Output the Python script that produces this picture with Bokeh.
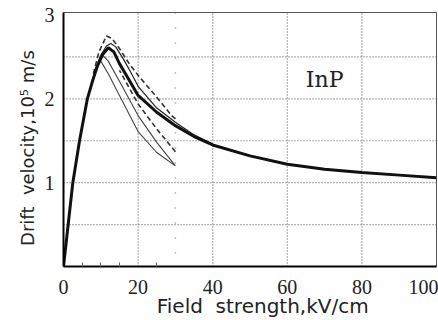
from bokeh.plotting import figure
from bokeh.models import Range1d, FixedTicker, Span
from bokeh.core.properties import value
from bokeh.embed import file_html
from bokeh.resources import INLINE

# steady-state curve (thick)
steady_x = [0, 1, 2.5, 4.3, 6.4, 7.7, 9, 10.5, 12, 13.5, 15, 17, 20, 25, 30, 35, 40, 50, 60, 70, 80, 90, 100]
steady_y = [0, 0.4, 1.0, 1.5, 2.0, 2.2, 2.38, 2.53, 2.61, 2.56, 2.42, 2.27, 2.04, 1.84, 1.68, 1.55, 1.45, 1.32, 1.22, 1.16, 1.12, 1.09, 1.06]

# thin curve near the steady-state one
near_x = [8.5, 10, 11.5, 12.7, 14, 16, 18, 20, 25, 30, 35, 40]
near_y = [2.35, 2.52, 2.63, 2.66, 2.62, 2.48, 2.32, 2.15, 1.89, 1.72, 1.57, 1.46]

# dashed loop, upper and lower branches
dash_up_x = [8, 9.5, 11.5, 13, 15, 17.6, 20, 25, 29, 30]
dash_up_y = [2.3, 2.56, 2.75, 2.72, 2.6, 2.42, 2.28, 2.02, 1.8, 1.76]
dash_lo_x = [30, 25, 20, 17, 15]
dash_lo_y = [1.37, 1.64, 1.94, 2.18, 2.34]

# thin loop
loop_x = [9, 10.5, 12, 15, 20, 25, 30, 25, 20, 15, 12, 10]
loop_y = [2.4, 2.52, 2.45, 2.21, 1.80, 1.48, 1.2, 1.36, 1.61, 2.04, 2.3, 2.45]

x_ticks = [0, 20, 40, 60, 80, 100]
x_minor = [5, 10, 15, 25]
y_ticks = [1, 2, 3]
x_grid = [20, 40, 60, 80]
y_grid = [0.5, 1, 1.5, 2, 2.5]
x_min, x_max = 0, 100
y_min, y_max = 0, 3.03
amp_field = 30
label_text = "InP"
label_pos = (70, 2.23)

NB = "\u00a0"
x_label = NB * 4 + "Field" + NB * 2 + "strength,kV/cm"
y_label = "Drift" + NB * 2 + "velocity,10\u2075" + NB + "m/s" + NB * 3

p = figure(width=438, height=320, output_backend="svg", toolbar_location=None,
           x_range=Range1d(x_min, x_max), y_range=Range1d(y_min, y_max),
           min_border_left=63, min_border_right=2, min_border_top=12, min_border_bottom=50)
p.background_fill_color = "white"
p.border_fill_color = "white"
p.outline_line_color = "#555555"
p.outline_line_width = 1
p.grid.visible = False

serif = "Liberation Serif"
sans = "DejaVu Sans"

for ax in (p.xaxis[0], p.yaxis[0]):
    ax.axis_line_color = "black"
    ax.axis_line_width = 2
    ax.major_tick_in = 0
    ax.major_tick_out = 0
    ax.minor_tick_out = 0
    ax.major_label_text_font = serif
    ax.major_label_text_font_size = "20px"
    ax.major_label_text_color = "#222222"
    ax.axis_label_text_font = sans
    ax.axis_label_text_font_style = "normal"
    ax.axis_label_text_color = "#222222"

p.xaxis.ticker = FixedTicker(ticks=x_ticks, minor_ticks=x_minor)
p.xaxis.minor_tick_in = 4
p.xaxis.minor_tick_line_color = "#666666"
p.xaxis.major_label_standoff = 13
p.xaxis.axis_label = x_label
p.xaxis.axis_label_text_font_size = "20px"
p.xaxis.axis_label_standoff = -3

p.yaxis.ticker = FixedTicker(ticks=y_ticks, minor_ticks=[])
p.yaxis.minor_tick_in = 0
p.yaxis.major_label_standoff = 9
p.yaxis.axis_label = y_label
p.yaxis.axis_label_text_font_size = "18px"
p.yaxis.axis_label_standoff = 4

grid_style = dict(line_color="#666666", line_dash="1 2", line_width=1.2)
for gx in x_grid:
    p.line([gx, gx], [y_min, y_max], **grid_style)
for gy in y_grid:
    p.line([x_min, x_max], [gy, gy], **grid_style)

p.add_layout(Span(location=amp_field, dimension="height", line_color="#888888",
                  line_dash="1 14", line_width=1.5))

p.line(loop_x, loop_y, line_color="#444444", line_width=1.1)
p.line(dash_up_x, dash_up_y, line_color="#333333", line_width=1.6, line_dash="5 3")
p.line(dash_lo_x, dash_lo_y, line_color="#333333", line_width=1.6, line_dash="5 3")
p.line(near_x, near_y, line_color="#222222", line_width=1.2)
p.line(steady_x, steady_y, line_color="#111111", line_width=3)

p.text(x=[label_pos[0]], y=[label_pos[1]], text=[label_text], text_font=value("DejaVu Serif"),
       text_font_size="22px", text_align="center", text_baseline="middle", text_color="#222222")

open("out.html", "w").write(file_html(p, INLINE))
